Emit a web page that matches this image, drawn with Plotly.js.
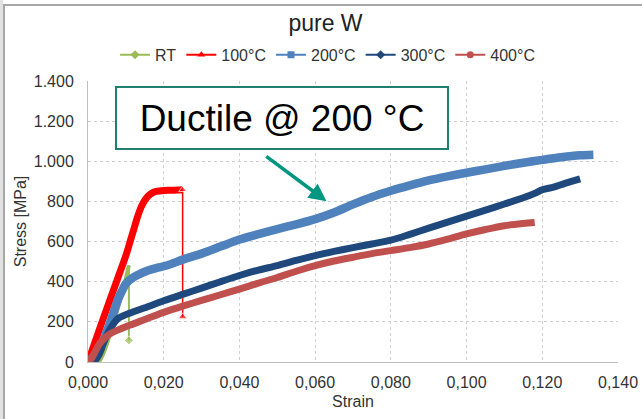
<!DOCTYPE html>
<html>
<head>
<meta charset="utf-8">
<script src="https://cdn.plot.ly/plotly-3.0.1.min.js"></script>
<style>
  html, body { margin: 0; padding: 0; background: #fff; }
  #chart { width: 642px; height: 419px; position: relative; }
  .strip { position: absolute; left: 0; top: 0; width: 3px; height: 419px; background: #e2e2e2; pointer-events: none; }
  .frame { position: absolute; left: 3px; top: 4px; width: 639px; height: 415px; border-left: 2px solid #a6a6a6; border-top: 2px solid #a6a6a6; box-sizing: border-box; pointer-events: none; }
</style>
</head>
<body>
<div id="wrap" style="position:relative;width:642px;height:419px;">
  <div id="chart"></div>
  <div class="strip"></div>
  <div class="frame"></div>
</div>
<script>
// ---- data (strain, stress [MPa]) ----
const seriesNames = ["RT", "100°C", "200°C", "300°C", "400°C"];

const rtStrain   = [0, 0.001, 0.002, 0.003, 0.004, 0.005, 0.006, 0.007, 0.008, 0.009, 0.010, 0.0108];
const rtStress   = [0, 0, 0, 5, 40, 90, 150, 210, 275, 345, 415, 482];
const rtDropStrain = [0.0108, 0.0108];
const rtDropStress = [482, 108];

const t100Strain = [0, 0.002, 0.004, 0.006, 0.008, 0.010, 0.011, 0.012, 0.013, 0.014, 0.015, 0.016, 0.017, 0.018, 0.020, 0.022, 0.024, 0.025];
const t100Stress = [0, 108, 215, 320, 425, 530, 592, 655, 718, 770, 806, 829, 843, 850, 855, 856, 857, 858];
const t100DropStrain = [0.025, 0.025];
const t100DropStress = [858, 225];

const t200Strain = [0, 0.002, 0.004, 0.006, 0.008, 0.009, 0.010, 0.012, 0.014, 0.016, 0.018, 0.021, 0.025, 0.030, 0.035, 0.040, 0.045, 0.050, 0.055, 0.060, 0.065, 0.070, 0.075, 0.080, 0.085, 0.090, 0.095, 0.100, 0.105, 0.110, 0.115, 0.120, 0.125, 0.130, 0.1335];
const t200Stress = [0, 40, 105, 205, 315, 355, 390, 422, 442, 457, 468, 482, 510, 540, 575, 610, 637, 662, 686, 712, 745, 785, 822, 853, 880, 905, 925, 943, 960, 977, 993, 1007, 1020, 1030, 1033];

const t300Strain = [0, 0.001, 0.002, 0.003, 0.004, 0.005, 0.006, 0.008, 0.010, 0.012, 0.015, 0.020, 0.025, 0.030, 0.035, 0.040, 0.045, 0.050, 0.055, 0.060, 0.065, 0.070, 0.075, 0.080, 0.085, 0.090, 0.095, 0.100, 0.105, 0.110, 0.115, 0.118, 0.120, 0.123, 0.126, 0.130];
const t300Stress = [0, 3, 10, 40, 90, 135, 170, 218, 236, 250, 270, 305, 337, 368, 400, 431, 458, 480, 506, 530, 551, 570, 588, 607, 636, 667, 697, 727, 757, 787, 818, 840, 858, 871, 890, 912];

const t400Strain = [0, 0.001, 0.002, 0.003, 0.004, 0.005, 0.006, 0.008, 0.010, 0.012, 0.015, 0.020, 0.025, 0.030, 0.035, 0.040, 0.045, 0.050, 0.055, 0.060, 0.065, 0.070, 0.075, 0.080, 0.085, 0.090, 0.095, 0.100, 0.105, 0.110, 0.115, 0.118];
const t400Stress = [0, 20, 55, 90, 112, 130, 142, 160, 176, 190, 212, 247, 278, 307, 335, 363, 393, 421, 452, 480, 503, 522, 540, 555, 570, 588, 612, 638, 660, 679, 690, 695];

const xTickVals = [0, 0.02, 0.04, 0.06, 0.08, 0.10, 0.12, 0.14];
const yTickVals = [0, 200, 400, 600, 800, 1000, 1200, 1400];

// ---- styles ----
const colors = ["#9BBB59", "#FF0000", "#4F81BD", "#1F497D", "#C0504D"];
const symbols = ["diamond", "triangle-up", "square", "diamond", "circle"];

const traces = [];
const curves = [
  [rtStrain, rtStress, 4],
  [t100Strain, t100Stress, 7],
  [t200Strain, t200Stress, 8.5],
  [t300Strain, t300Stress, 7],
  [t400Strain, t400Stress, 7]
];
curves.forEach((c, i) => {
  traces.push({
    x: c[0], y: c[1], type: "scatter", mode: "lines",
    line: { color: colors[i], width: c[2], shape: "spline", smoothing: 0.8 },
    showlegend: false, hoverinfo: "skip"
  });
  if (i === 0) {
    traces.push({
      x: rtDropStrain, y: rtDropStress, type: "scatter", mode: "lines+markers",
      line: { color: colors[0], width: 2 },
      marker: { symbol: "diamond", size: [0, 7], color: colors[0] },
      showlegend: false, hoverinfo: "skip"
    });
  }
  if (i === 1) {
    traces.push({
      x: t100DropStrain, y: t100DropStress, type: "scatter", mode: "lines+markers",
      line: { color: colors[1], width: 1.5 },
      marker: { symbol: "triangle-up", size: [7, 8], color: colors[1] },
      showlegend: false, hoverinfo: "skip"
    });
  }
});
// legend entries
seriesNames.forEach((n, i) => {
  traces.push({
    x: [null], y: [null], type: "scatter", mode: "lines+markers", name: n,
    line: { color: colors[i], width: 2 },
    marker: { symbol: symbols[i], size: 7, color: colors[i] }
  });
});

const fontFam = "Liberation Sans, Arial, sans-serif";
const layout = {
  width: 642, height: 419,
  margin: { l: 88, r: 24, t: 81, b: 57 },
  paper_bgcolor: "#ffffff", plot_bgcolor: "#ffffff",
  separators: ",.",
  font: { family: fontFam, color: "#333333", size: 16 },
  title: { text: "pure W", x: 0.507, xref: "container", y: 0.945, yref: "container", yanchor: "middle", xanchor: "center",
           font: { family: fontFam, size: 23, color: "#222222" } },
  showlegend: true,
  legend: { orientation: "h", x: 0.452, xanchor: "center", y: 1.093, yanchor: "middle",
            font: { family: fontFam, size: 16, color: "#333333" }, itemwidth: 30, tracegroupgap: 0,
            bgcolor: "rgba(0,0,0,0)" },
  xaxis: {
    range: [0, 0.14], tickvals: xTickVals, tickformat: ".3f",
    showgrid: true, gridcolor: "#d0d0d0", griddash: "dot", gridwidth: 1,
    showline: true, linecolor: "#bfbfbf", linewidth: 1,
    zeroline: false, ticks: "", ticklabelstandoff: 6,
    tickfont: { family: fontFam, size: 16, color: "#333333" },
    title: { text: "Strain", font: { family: fontFam, size: 16, color: "#333333" }, standoff: 5 }
  },
  yaxis: {
    range: [0, 1400], tickvals: yTickVals, tickformat: ",d",
    showgrid: true, gridcolor: "#d0d0d0", griddash: "dot", gridwidth: 1,
    showline: true, linecolor: "#bfbfbf", linewidth: 1,
    zeroline: false, ticks: "", ticklabelstandoff: 10,
    tickfont: { family: fontFam, size: 16, color: "#333333" },
    title: { text: "Stress [MPa]", font: { family: fontFam, size: 16, color: "#333333" }, standoff: 3 }
  },
  annotations: [
    {
      x: 0.0512, y: 1214, xref: "x", yref: "y", xanchor: "center", yanchor: "middle",
      text: "Ductile @ 200 °C", showarrow: false,
      font: { family: fontFam, size: 37, color: "#000000" },
      bgcolor: "#ffffff", bordercolor: "#1E7F6E", borderwidth: 2, borderpad: 0,
      width: 330, height: 60
    },
    {
      x: 0.0630, y: 801, xref: "x", yref: "y",
      ax: 0.0467, ay: 1030, axref: "x", ayref: "y",
      text: "", showarrow: true, arrowhead: 2, arrowsize: 1, arrowwidth: 3.5,
      arrowcolor: "#00967F"
    }
  ]
};

Plotly.newPlot("chart", traces, layout, { displayModeBar: false, staticPlot: true });
</script>
</body>
</html>
